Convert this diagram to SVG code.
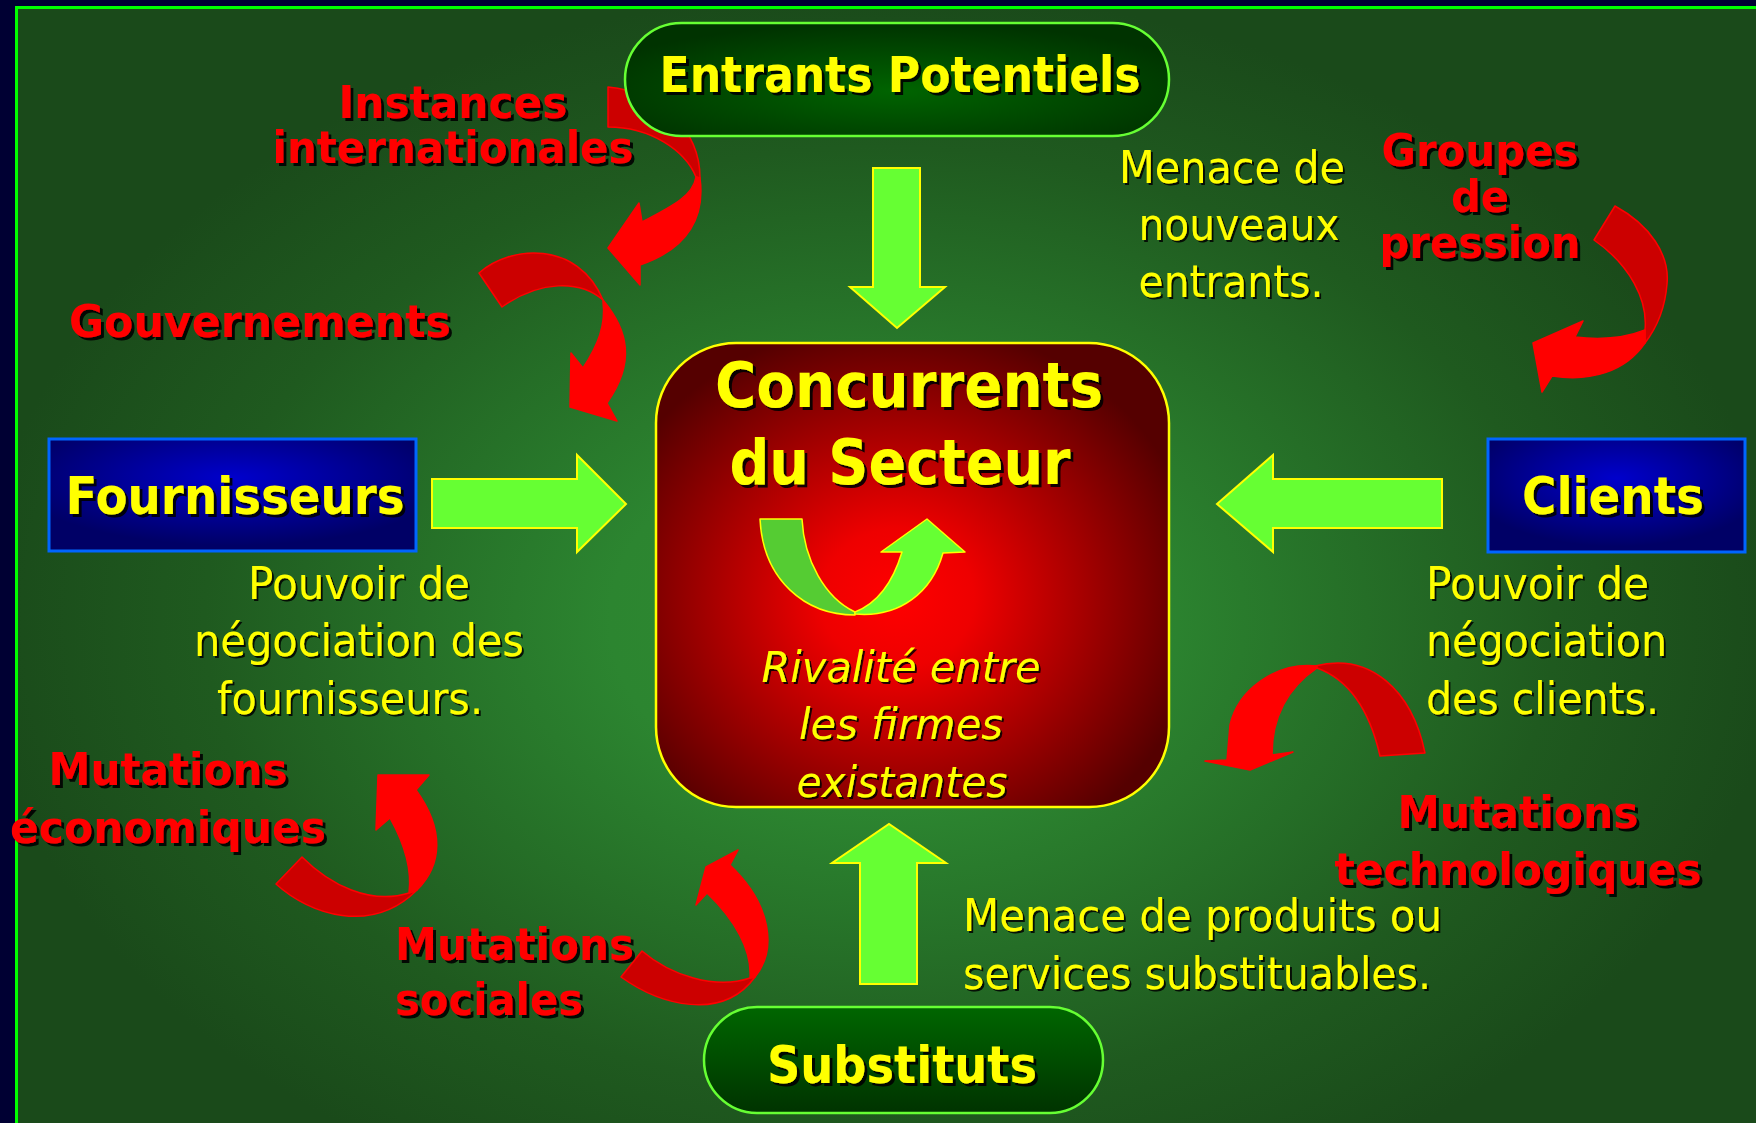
<svg xmlns="http://www.w3.org/2000/svg" width="1756" height="1123" viewBox="0 0 1756 1123">
<defs>
  <radialGradient id="bg" gradientUnits="userSpaceOnUse" cx="880" cy="620" r="900" gradientTransform="translate(880,620) scale(1,0.7) translate(-880,-620)">
    <stop offset="0" stop-color="#2f8d31"/>
    <stop offset="0.3" stop-color="#2c8530"/>
    <stop offset="0.75" stop-color="#1f5a1f"/>
    <stop offset="1" stop-color="#1a4a1a"/>
  </radialGradient>
  <radialGradient id="redg" cx="0.47" cy="0.55" r="0.6">
    <stop offset="0" stop-color="#ff0000"/>
    <stop offset="0.25" stop-color="#ee0000"/>
    <stop offset="1" stop-color="#550000"/>
  </radialGradient>
  <radialGradient id="blueg" cx="0.5" cy="0.35" r="0.6">
    <stop offset="0" stop-color="#0000cc"/>
    <stop offset="1" stop-color="#000066"/>
  </radialGradient>
  <radialGradient id="pillg" cx="0.5" cy="0.6" r="0.6">
    <stop offset="0" stop-color="#006400"/>
    <stop offset="1" stop-color="#003300"/>
  </radialGradient>
  <linearGradient id="pillg2" x1="0" y1="0" x2="0" y2="1">
    <stop offset="0" stop-color="#006600"/>
    <stop offset="1" stop-color="#003300"/>
  </linearGradient>
  <filter id="sh3" x="-10%" y="-20%" width="130%" height="160%">
    <feDropShadow dx="3" dy="3" stdDeviation="0.4" flood-color="#000" flood-opacity="0.9"/>
  </filter>
  <filter id="sh2" x="-10%" y="-20%" width="130%" height="160%">
    <feDropShadow dx="2" dy="2" stdDeviation="0.4" flood-color="#000" flood-opacity="0.85"/>
  </filter>
  <style>
    text { font-family: 'DejaVu Sans', 'Liberation Sans', sans-serif; }
    .title { font-weight: bold; fill: #ffff00; filter: url(#sh3); }
    .lbl { font-weight: bold; fill: #ff0000; font-size: 45px; filter: url(#sh3); }
    .body { fill: #ffff00; font-size: 44px; filter: url(#sh2); }
    .ital { fill: #ffff00; font-size: 43px; font-style: italic; filter: url(#sh2); }
    .ga { fill: #66ff33; stroke: #ffff00; stroke-width: 2; stroke-linejoin: miter; }
    .rb { fill: #ff0000; stroke: #ff0000; stroke-width: 1.5; stroke-linejoin: round; }
    .rd { fill: #cc0000; stroke: #ff0000; stroke-width: 1.5; stroke-linejoin: round; }
  </style>
</defs>

<!-- background -->
<rect x="0" y="0" width="1756" height="1123" fill="#000033"/>
<rect x="16.5" y="7.5" width="1800" height="1200" fill="url(#bg)" stroke="#00ff00" stroke-width="3"/>

<!-- connectors: green block arrows -->
<g id="connectors">
  <polygon class="ga" points="873,168 920,168 920,287 945,287 897,328 850,287 873,287"/>
  <polygon class="ga" points="432,479 577,479 577,455 626,504 577,552 577,528 432,528"/>
  <polygon class="ga" points="1442,479 1273,479 1273,455 1217,504 1273,552 1273,528 1442,528"/>
  <polygon class="ga" points="860,984 917,984 917,863 946,863 889,824 832,863 860,863"/>
</g>

<!-- red influence arrows -->
<g id="influence-arrows">
  <g id="arrow-instances">
    <path class="rd" d="M608,87 C660,92 700,130 700,178 L696,177 C685,150 650,127 608,127 Z"/>
    <path class="rb" d="M700,178 C705,215 690,248 640,265 L640,285 L608,248 L639,203 L642,222 C675,205 693,195 696,177 Z"/>
  </g>
  <g id="arrow-gouvernements">
    <path class="rd" d="M479,273 C510,245 578,240 603,300 C580,280 540,280 502,307 Z"/>
    <path class="rb" d="M603,300 C628,330 636,362 607,403 L617,421 L570,407 L571,353 L583,368 C598,345 606,325 603,302 Z"/>
  </g>
  <g id="arrow-groupes">
    <path class="rd" d="M1615,206 C1650,225 1670,255 1667,284 C1665,310 1655,330 1645,343 L1645,330 C1648,300 1630,265 1594,240 Z"/>
    <path class="rb" d="M1645,330 C1625,338 1600,340 1575,337 L1583,321 L1533,343 L1542,392 L1552,376 C1590,382 1625,372 1645,343 Z"/>
  </g>
  <g id="arrow-technologiques">
    <path class="rd" d="M1315,666 C1370,652 1412,690 1425,753 L1380,756 C1370,712 1350,680 1317,668 Z"/>
    <path class="rb" d="M1317,666 C1275,662 1238,690 1230,725 L1227,760 L1205,761 L1250,770 L1293,752 L1272,755 C1272,720 1285,690 1317,668 Z"/>
  </g>
  <g id="arrow-economiques">
    <path class="rd" d="M276,884 C310,915 372,935 417,890 L409,893 C370,905 330,885 302,857 Z"/>
    <path class="rb" d="M417,890 C442,865 445,830 416,790 L429,775 L378,775 L376,830 L390,818 C405,845 412,870 409,893 Z"/>
  </g>
  <g id="arrow-sociales">
    <path class="rd" d="M621,977 C660,1005 722,1022 755,977 L750,978 C715,990 670,975 642,951 Z"/>
    <path class="rb" d="M755,977 C777,950 772,905 730,865 L738,850 L706,867 L696,905 L707,893 C735,920 752,950 750,978 Z"/>
  </g>
</g>

<!-- nodes -->
<g id="node-entrants">
  <rect x="625" y="23" width="544" height="113" rx="56.5" fill="url(#pillg)" stroke="#66ff33" stroke-width="2.5"/>
  <text class="title" x="900" y="92" font-size="50" text-anchor="middle" textLength="481" lengthAdjust="spacingAndGlyphs">Entrants Potentiels</text>
</g>

<g id="node-concurrents">
  <rect x="656" y="343" width="513" height="464" rx="80" fill="url(#redg)" stroke="#ffff00" stroke-width="2.5"/>
  <text class="title" x="909" y="407" font-size="62" text-anchor="middle" textLength="388" lengthAdjust="spacingAndGlyphs">Concurrents</text>
  <text class="title" x="900" y="484" font-size="62" text-anchor="middle" textLength="341" lengthAdjust="spacingAndGlyphs">du Secteur</text>
  <g id="rivalry-icon">
    <path d="M760,519 L802,519 C804,560 825,598 855,612 L855,615 C805,615 763,580 760,519 Z" fill="#55cc33" stroke="#ffff00" stroke-width="1.5" stroke-linejoin="round"/>
    <path d="M855,614 C900,618 932,592 943,553 L965,552 L927,519 L881,552 L902,552 C893,582 878,603 855,612 Z" fill="#66ff33" stroke="#ffff00" stroke-width="1.5" stroke-linejoin="round"/>
  </g>
  <text class="ital" x="901" y="682" text-anchor="middle" textLength="279" lengthAdjust="spacingAndGlyphs">Rivalité entre</text>
  <text class="ital" x="901" y="739" text-anchor="middle" textLength="204" lengthAdjust="spacingAndGlyphs">les firmes</text>
  <text class="ital" x="902" y="797" text-anchor="middle" textLength="211" lengthAdjust="spacingAndGlyphs">existantes</text>
</g>

<g id="node-fournisseurs">
  <rect x="49" y="439" width="367" height="112" fill="url(#blueg)" stroke="#0066ff" stroke-width="3"/>
  <text class="title" x="235" y="514" font-size="52" text-anchor="middle" textLength="339" lengthAdjust="spacingAndGlyphs">Fournisseurs</text>
</g>

<g id="node-clients">
  <rect x="1488" y="439" width="257" height="113" fill="url(#blueg)" stroke="#0066ff" stroke-width="3"/>
  <text class="title" x="1613" y="514" font-size="52" text-anchor="middle" textLength="182" lengthAdjust="spacingAndGlyphs">Clients</text>
</g>

<g id="node-substituts">
  <rect x="704" y="1007" width="399" height="106" rx="53" fill="url(#pillg2)" stroke="#66ff33" stroke-width="2.5"/>
  <text class="title" x="902" y="1083" font-size="52" text-anchor="middle" textLength="270" lengthAdjust="spacingAndGlyphs">Substituts</text>
</g>

<!-- force descriptions -->
<g id="desc-entrants">
  <text class="body" x="1232" y="183" text-anchor="middle" textLength="226" lengthAdjust="spacingAndGlyphs">Menace de</text>
  <text class="body" x="1239" y="240" text-anchor="middle" textLength="201" lengthAdjust="spacingAndGlyphs">nouveaux</text>
  <text class="body" x="1231" y="297" text-anchor="middle" textLength="185" lengthAdjust="spacingAndGlyphs">entrants.</text>
</g>
<g id="desc-fournisseurs">
  <text class="body" x="359" y="599" text-anchor="middle" textLength="222" lengthAdjust="spacingAndGlyphs">Pouvoir de</text>
  <text class="body" x="359" y="656" text-anchor="middle" textLength="330" lengthAdjust="spacingAndGlyphs">négociation des</text>
  <text class="body" x="350" y="714" text-anchor="middle" textLength="266" lengthAdjust="spacingAndGlyphs">fournisseurs.</text>
</g>
<g id="desc-clients">
  <text class="body" x="1426" y="599" textLength="223" lengthAdjust="spacingAndGlyphs">Pouvoir de</text>
  <text class="body" x="1426" y="656" textLength="241" lengthAdjust="spacingAndGlyphs">négociation</text>
  <text class="body" x="1426" y="714" textLength="233" lengthAdjust="spacingAndGlyphs">des clients.</text>
</g>
<g id="desc-substituts">
  <text class="body" x="963" y="931" textLength="479" lengthAdjust="spacingAndGlyphs">Menace de produits ou</text>
  <text class="body" x="963" y="989" textLength="468" lengthAdjust="spacingAndGlyphs">services substituables.</text>
</g>

<!-- external influence labels -->
<g id="label-instances">
  <text class="lbl" x="453" y="118" text-anchor="middle" textLength="229" lengthAdjust="spacingAndGlyphs">Instances</text>
  <text class="lbl" x="453" y="163" text-anchor="middle" textLength="361" lengthAdjust="spacingAndGlyphs">internationales</text>
</g>
<g id="label-gouvernements">
  <text class="lbl" x="69" y="337" textLength="382" lengthAdjust="spacingAndGlyphs">Gouvernements</text>
</g>
<g id="label-groupes">
  <text class="lbl" x="1480" y="166" text-anchor="middle" textLength="197" lengthAdjust="spacingAndGlyphs">Groupes</text>
  <text class="lbl" x="1480" y="212" text-anchor="middle" textLength="58" lengthAdjust="spacingAndGlyphs">de</text>
  <text class="lbl" x="1480" y="258" text-anchor="middle" textLength="201" lengthAdjust="spacingAndGlyphs">pression</text>
</g>
<g id="label-economiques">
  <text class="lbl" x="168" y="785" text-anchor="middle" textLength="239" lengthAdjust="spacingAndGlyphs">Mutations</text>
  <text class="lbl" x="168" y="843" text-anchor="middle" textLength="316" lengthAdjust="spacingAndGlyphs">économiques</text>
</g>
<g id="label-sociales">
  <text class="lbl" x="395" y="960" textLength="239" lengthAdjust="spacingAndGlyphs">Mutations</text>
  <text class="lbl" x="395" y="1015" textLength="188" lengthAdjust="spacingAndGlyphs">sociales</text>
</g>
<g id="label-technologiques">
  <text class="lbl" x="1518" y="828" text-anchor="middle" textLength="241" lengthAdjust="spacingAndGlyphs">Mutations</text>
  <text class="lbl" x="1518" y="885" text-anchor="middle" textLength="367" lengthAdjust="spacingAndGlyphs">technologiques</text>
</g>
</svg>
